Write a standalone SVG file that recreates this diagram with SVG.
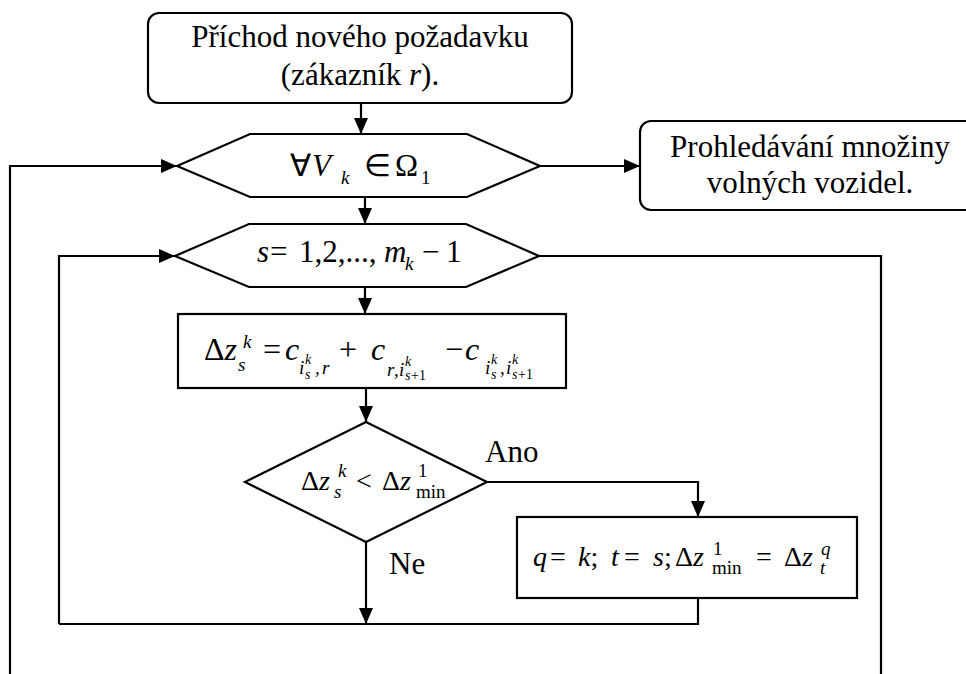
<svg xmlns="http://www.w3.org/2000/svg" width="966" height="674" viewBox="0 0 966 674" font-family="Liberation Serif, Times New Roman, serif">
  <style>
    .shape { fill: #ffffff; stroke: #000000; stroke-width: 2.2; }
    .wire { fill: none; stroke: #000000; stroke-width: 2.2; }
    text { font-family: "Liberation Serif", "Times New Roman", serif; font-size: 31px; fill: #000000; }
    .i { font-style: italic; }
    .s { font-size: 19px; }
    .ss { font-size: 14px; }
  </style>
  <defs>
    <marker id="arrow" markerUnits="userSpaceOnUse" viewBox="0 0 16 14" markerWidth="16" markerHeight="14" refX="16" refY="7" orient="auto">
      <path d="M0,0 L16,7 L0,14 z" fill="#000000"/>
    </marker>
  </defs>
  <rect width="966" height="674" fill="#ffffff"/>

  <!-- connectors -->
  <g id="connectors">
    <line class="wire" x1="361" y1="103" x2="361" y2="134" marker-end="url(#arrow)"/>
    <polyline class="wire" points="10,674 10,166 177,166" marker-end="url(#arrow)"/>
    <line class="wire" x1="540" y1="166" x2="640" y2="166" marker-end="url(#arrow)"/>
    <line class="wire" x1="365" y1="197" x2="365" y2="224" marker-end="url(#arrow)"/>
    <polyline class="wire" points="59,624 59,256 175,256" marker-end="url(#arrow)"/>
    <polyline class="wire" points="539,256 881,256 881,674"/>
    <line class="wire" x1="365" y1="287" x2="365" y2="314" marker-end="url(#arrow)"/>
    <line class="wire" x1="366" y1="388" x2="366" y2="422" marker-end="url(#arrow)"/>
    <polyline class="wire" points="487,482 698,482 698,517" marker-end="url(#arrow)"/>
    <line class="wire" x1="366" y1="542" x2="366" y2="624" marker-end="url(#arrow)"/>
    <polyline class="wire" points="698,598 698,624 59,624"/>
    <text x="485" y="462">Ano</text>
    <text x="389" y="574">Ne</text>
  </g>

  <!-- start: new request arrives -->
  <g id="start">
    <rect class="shape" x="148" y="13" width="424" height="90" rx="11"/>
    <text x="360" y="47" text-anchor="middle">Příchod nového požadavku</text>
    <text x="360" y="85" text-anchor="middle">(zákazník <tspan class="i">r</tspan>).</text>
  </g>

  <!-- loop over vehicles -->
  <g id="loop-vehicles">
    <polygon class="shape" points="177,166 250,134 467,134 540,166 467,197 250,197"/>
    <text y="176"><tspan x="290">∀</tspan><tspan class="i" x="312">V</tspan><tspan class="i s" x="341" y="184">k</tspan><tspan x="364" y="176">∈</tspan><tspan x="395">Ω</tspan><tspan class="s" x="421" y="184">1</tspan></text>
  </g>

  <!-- search of free vehicles -->
  <g id="free-vehicles">
    <rect class="shape" x="640" y="121" width="338" height="89" rx="11"/>
    <text x="810" y="157" text-anchor="middle">Prohledávání množiny</text>
    <text x="810" y="193" text-anchor="middle">volných vozidel.</text>
  </g>

  <!-- loop over route positions -->
  <g id="loop-positions">
    <polygon class="shape" points="175,256 249,224 466,224 539,256 466,287 249,287"/>
    <text y="262"><tspan class="i" x="257">s</tspan><tspan x="270">=</tspan><tspan x="299">1,2,...,</tspan><tspan class="i" x="384">m</tspan><tspan class="i s" x="405" y="270">k</tspan><tspan x="422" y="262">−</tspan><tspan x="446">1</tspan></text>
  </g>

  <!-- insertion cost -->
  <g id="delta-cost">
    <rect class="shape" x="178" y="314" width="388" height="74"/>
    <text y="360" style="font-size:32px"><tspan x="204">Δ</tspan><tspan class="i">z</tspan><tspan class="i s" x="243" y="348">k</tspan><tspan class="i s" x="238" y="371">s</tspan><tspan x="263" y="360">=</tspan><tspan class="i" x="285">c</tspan><tspan class="i s" x="299" y="374">i</tspan><tspan class="i ss" x="305" y="364">k</tspan><tspan class="i ss" x="305" y="379">s</tspan><tspan class="s" x="315" y="374">,</tspan><tspan class="i s" x="322" y="374">r</tspan><tspan x="339" y="360">+</tspan><tspan class="i" x="371">c</tspan><tspan class="i s" x="387" y="376">r</tspan><tspan class="s" x="394" y="376">,</tspan><tspan class="i s" x="399" y="376">i</tspan><tspan class="i ss" x="405" y="366">k</tspan><tspan class="i ss" x="405" y="380">s</tspan><tspan class="ss" x="411" y="380">+1</tspan><tspan x="445" y="360">−</tspan><tspan class="i" x="465">c</tspan><tspan class="i s" x="485" y="374">i</tspan><tspan class="i ss" x="491" y="364">k</tspan><tspan class="i ss" x="491" y="379">s</tspan><tspan class="s" x="500" y="374">,</tspan><tspan class="i s" x="506" y="374">i</tspan><tspan class="i ss" x="512" y="364">k</tspan><tspan class="i ss" x="512" y="379">s</tspan><tspan class="ss" x="518" y="379">+1</tspan></text>
  </g>

  <!-- comparison with current minimum -->
  <g id="compare">
    <polygon class="shape" points="366,422 487,482 366,542 245,482"/>
    <text y="490" style="font-size:28px"><tspan x="301">Δ</tspan><tspan class="i">z</tspan><tspan class="i s" x="338" y="477">k</tspan><tspan class="i s" x="334" y="498">s</tspan><tspan x="356" y="490">&lt;</tspan><tspan x="382">Δ</tspan><tspan class="i">z</tspan><tspan class="s" x="418" y="477">1</tspan><tspan class="s" x="416" y="498">min</tspan></text>
  </g>

  <!-- store new minimum -->
  <g id="update-minimum">
    <rect class="shape" x="517" y="517" width="340" height="81"/>
    <text y="566" style="font-size:28px"><tspan class="i" x="533">q</tspan><tspan x="550">=</tspan><tspan class="i" x="578">k</tspan><tspan>;</tspan><tspan class="i" x="611">t</tspan><tspan x="624">=</tspan><tspan class="i" x="653">s</tspan><tspan>;</tspan><tspan x="675">Δ</tspan><tspan class="i">z</tspan><tspan class="s" x="713" y="555">1</tspan><tspan class="s" x="712" y="574">min</tspan><tspan x="756" y="566">=</tspan><tspan x="784">Δ</tspan><tspan class="i">z</tspan><tspan class="i s" x="821" y="555">q</tspan><tspan class="i s" x="820" y="574">t</tspan></text>
  </g>
</svg>
